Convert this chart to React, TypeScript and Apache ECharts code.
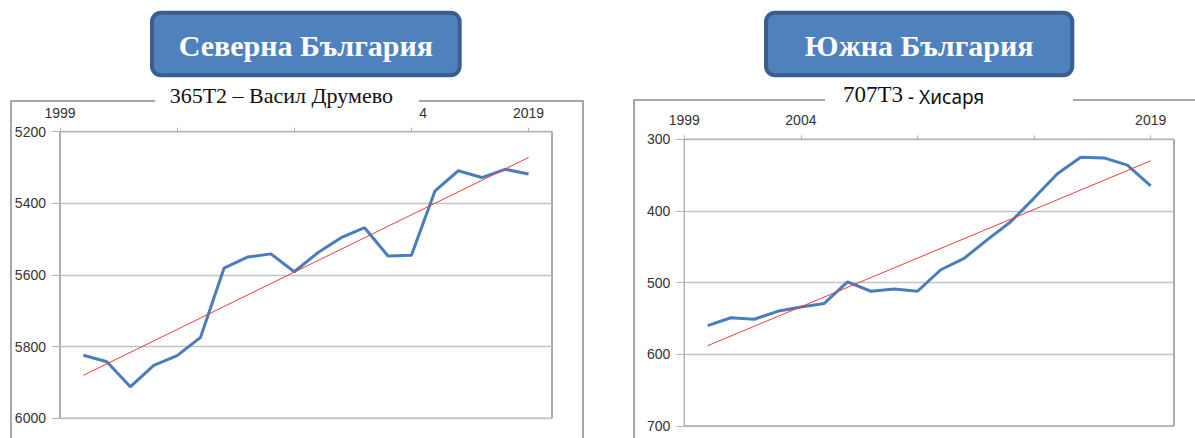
import React, { useEffect, useRef } from "react";
import * as echarts from "echarts";

const years = [2000, 2001, 2002, 2003, 2004, 2005, 2006, 2007, 2008, 2009, 2010, 2011, 2012, 2013, 2014, 2015, 2016, 2017, 2018, 2019];
const northValues = [5824, 5842, 5912, 5852, 5825, 5774, 5581, 5550, 5541, 5591, 5538, 5496, 5468, 5547, 5545, 5366, 5309, 5328, 5305, 5318];
const southValues = [560, 549, 551, 540, 534, 529, 499, 512, 509, 512, 482, 466, 440, 415, 382, 348, 325, 326, 336, 365];
const trendYears = [2000, 2019];
const northTrend = [5880, 5272];
const southTrend = [588, 330];

// year labels hidden behind each chart's title box
const northHiddenYears = [2004, 2009];
const southHiddenYears = [2009, 2014];

const panelTitles = ["Северна България", "Южна България"];
const northChartTitle = "365T2 – Васил Друмево";
const southChartTitleA = "707T3";
const southChartTitleB = "- Хисаря";

const pairs = (xs: number[], ys: number[]) => xs.map((x, i) => [x, ys[i]]);

const LABEL_FONT = "'Liberation Sans', Arial, sans-serif";
const SERIF = "'Liberation Serif', 'Times New Roman', serif";

function xAxisFor(gridIndex: number, hidden: number[]) {
  return {
    type: "value",
    gridIndex,
    position: "top",
    min: 1999,
    max: 2020,
    interval: 5,
    axisLine: { show: true, lineStyle: { color: "#B3B3B3", width: 1 } },
    axisTick: { show: true, length: 4, lineStyle: { color: "#B3B3B3" } },
    axisLabel: {
      show: true,
      margin: 12,
      fontSize: 14,
      fontFamily: LABEL_FONT,
      color: "#333333",
      showMaxLabel: false,
      formatter: (v: number) => (hidden.indexOf(v) >= 0 ? "" : String(v)),
    },
    splitLine: { show: false },
  };
}

function yAxisFor(gridIndex: number, min: number, max: number, interval: number) {
  return {
    type: "value",
    gridIndex,
    inverse: true,
    min,
    max,
    interval,
    axisLine: { show: true, lineStyle: { color: "#B3B3B3", width: 1 } },
    axisTick: { show: true, length: 8, lineStyle: { color: "#B3B3B3" } },
    axisLabel: {
      show: true,
      margin: 14,
      fontSize: 14,
      fontFamily: LABEL_FONT,
      color: "#333333",
      formatter: (v: number) => String(v),
    },
    splitLine: { show: true, lineStyle: { color: "#C3C3C3", width: 1.3 } },
  };
}

function headerBox(x: number, w: number, label: string) {
  return [
    {
      type: "rect",
      z: 100,
      shape: { x: x + 2, y: 12.7, width: w - 4, height: 62.6, r: 9 },
      style: { fill: "#4F81BD", stroke: "#3A5E8D", lineWidth: 4 },
    },
    {
      type: "text",
      z: 101,
      x: x + w / 2,
      y: 45,
      style: {
        text: label,
        font: `bold 30px ${SERIF}`,
        fill: "#FFFFFF",
        textAlign: "center",
        textVerticalAlign: "middle",
      },
    },
  ];
}

export default function App() {
  const ref = useRef<HTMLDivElement>(null);

  useEffect(() => {
    if (!ref.current) return;
    const chart = echarts.init(ref.current, undefined, { renderer: "svg" });
    const option: any = {
      animation: false,
      backgroundColor: "#FFFFFF",
      grid: [
        { left: 60, top: 131.7, width: 492, height: 286.6, show: true, borderColor: "#595959", borderWidth: 1, backgroundColor: "transparent" },
        { left: 684.3, top: 139.3, width: 489.7, height: 286.7, show: true, borderColor: "#595959", borderWidth: 1, backgroundColor: "transparent" },
      ],
      xAxis: [xAxisFor(0, northHiddenYears), xAxisFor(1, southHiddenYears)],
      yAxis: [yAxisFor(0, 5200, 6000, 200), yAxisFor(1, 300, 700, 100)],
      series: [
        {
          type: "line",
          xAxisIndex: 0,
          yAxisIndex: 0,
          data: pairs(years, northValues),
          symbol: "none",
          lineStyle: { color: "#4A7EBB", width: 3 },
          z: 3,
        },
        {
          type: "line",
          xAxisIndex: 0,
          yAxisIndex: 0,
          data: pairs(trendYears, northTrend),
          symbol: "none",
          lineStyle: { color: "#E5413B", width: 1 },
          z: 4,
        },
        {
          type: "line",
          xAxisIndex: 1,
          yAxisIndex: 1,
          data: pairs(years, southValues),
          symbol: "none",
          lineStyle: { color: "#4A7EBB", width: 3 },
          z: 3,
        },
        {
          type: "line",
          xAxisIndex: 1,
          yAxisIndex: 1,
          data: pairs(trendYears, southTrend),
          symbol: "none",
          lineStyle: { color: "#E5413B", width: 1 },
          z: 4,
        },
      ],
      graphic: [
        {
          type: "rect",
          z: 90,
          shape: { x: 11, y: 101, width: 572, height: 400 },
          style: { fill: "transparent", stroke: "#8C8C8C", lineWidth: 1.5 },
        },
        {
          type: "rect",
          z: 90,
          shape: { x: 634, y: 100, width: 600, height: 400 },
          style: { fill: "transparent", stroke: "#8C8C8C", lineWidth: 1.5 },
        },
        {
          type: "rect",
          z: 95,
          shape: { x: 155, y: 90, width: 264, height: 30 },
          style: { fill: "#FFFFFF" },
        },
        {
          type: "rect",
          z: 95,
          shape: { x: 825, y: 90, width: 248, height: 37 },
          style: { fill: "#FFFFFF" },
        },
        {
          type: "text",
          z: 101,
          x: 281.3,
          y: 106,
          style: {
            text: northChartTitle,
            font: `22px ${SERIF}`,
            fill: "#111111",
            textAlign: "center",
            textVerticalAlign: "bottom",
          },
        },
        {
          type: "text",
          z: 101,
          x: 903,
          y: 106,
          style: {
            text: southChartTitleA,
            font: `23px ${SERIF}`,
            fill: "#111111",
            textAlign: "right",
            textVerticalAlign: "bottom",
          },
        },
        {
          type: "text",
          z: 101,
          x: 908,
          y: 106,
          style: {
            text: southChartTitleB,
            font: `19px 'Noto Sans', sans-serif`,
            fill: "#111111",
            textAlign: "left",
            textVerticalAlign: "bottom",
          },
        },
        ...headerBox(150, 311.7, panelTitles[0]),
        ...headerBox(764, 310.3, panelTitles[1]),
      ],
    };
    chart.setOption(option);
    return () => chart.dispose();
  }, []);

  return (
    <div
      ref={ref}
      style={{ position: "fixed", left: 0, top: 0, width: 1195, height: 438, background: "#FFFFFF" }}
    />
  );
}
